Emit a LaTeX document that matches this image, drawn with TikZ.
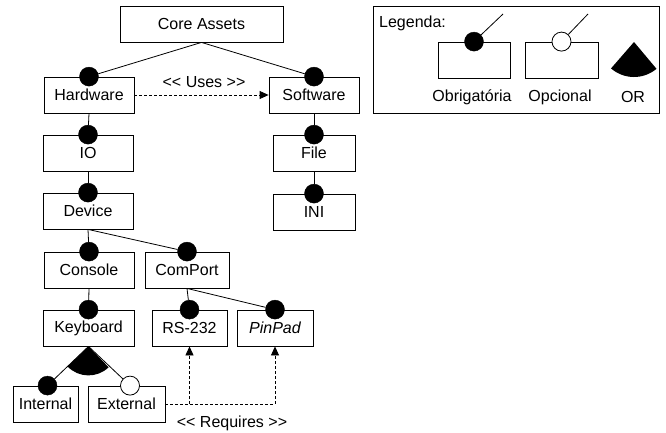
\documentclass[tikz,border=0pt]{standalone}
\usepackage{fontspec}
\setmainfont{Liberation Sans}[Ligatures=TeXOff]
\usetikzlibrary{arrows.meta}
\begin{document}
\begin{tikzpicture}[x=1pt,y=-1pt,
  box/.style={draw,line width=0.8pt,inner sep=0pt,minimum height=36pt,font=\fontsize{16}{18}\selectfont},
  mand/.style={circle,fill=black,draw=black,inner sep=0pt,minimum size=19pt},
  opt/.style={circle,fill=white,draw=black,line width=0.8pt,inner sep=0pt,minimum size=19pt},
  link/.style={line width=0.8pt},
  dep/.style={line width=0.8pt,dashed,dash pattern=on 3pt off 2pt,-{Triangle[length=9pt,width=8pt]}},
  lbl/.style={font=\fontsize{16}{18}\selectfont,inner sep=0pt}]
\useasboundingbox (0,0) rectangle (666,432);
% boxes
\node[box,minimum width=163pt] (core) at (201.5,24) {Core Assets};
\node[box,minimum width=90pt] (hw) at (89,95) {Hardware};
\node[box,minimum width=90pt] (sw) at (314,95) {Software};
\node[box,minimum width=90pt] (io) at (88,153) {IO};
\node[box,minimum width=82pt] (fi) at (314,153) {File};
\node[box,minimum width=90pt] (dev) at (88,211) {Device};
\node[box,minimum width=82pt] (ini) at (314,212) {INI};
\node[box,minimum width=90pt] (con) at (89,270) {Console};
\node[box,minimum width=84pt] (cp) at (187,270) {ComPort};
\node[box,minimum width=91pt] (kb) at (88.5,328) {Keyboard};
\node[box,minimum width=75pt] (rs) at (189.5,328) {RS-232};
\node[box,minimum width=76pt] (pp) at (275,328) {\itshape PinPad};
\node[box,minimum width=65pt] (int) at (45.5,404) {Internal};
\node[box,minimum width=77pt] (ext) at (126.5,404) {External};
% dots
\node[mand] (dhw) at (hw.north) {};
\node[mand] (dsw) at (sw.north) {};
\node[mand] (dio) at (io.north) {};
\node[mand] (dfi) at (fi.north) {};
\node[mand] (ddev) at (dev.north) {};
\node[mand] (dini) at (ini.north) {};
\node[mand] (dcon) at (con.north) {};
\node[mand] (dcp) at (cp.north) {};
\node[mand] (dkb) at (kb.north) {};
\node[mand] (drs) at (rs.north) {};
\node[mand] (dpp) at (pp.north) {};
\node[mand] (dint) at ([xshift=2pt]int.north) {};
\node[opt] (dext) at ([xshift=3.5pt]ext.north) {};
% links
\draw[link] (core.south) -- (dhw);
\draw[link] (core.south) -- (dsw);
\draw[link] (hw.south) -- (dio);
\draw[link] (sw.south) -- (dfi);
\draw[link] (io.south) -- (ddev);
\draw[link] (fi.south) -- (dini);
\draw[link] (dev.south) -- (dcon);
\draw[link] (dev.south) -- (dcp);
\draw[link] (con.south) -- (dkb);
\draw[link] (cp.south) -- (drs);
\draw[link] (cp.south) -- (dpp);
\draw[link] (kb.south) -- (dint);
\draw[link] (kb.south) -- (dext);
\fill (kb.south) -- ++(-136:29pt) arc[start angle=-136,end angle=-46,radius=29pt] -- cycle;
% dependencies
\draw[dep] (hw.east) -- (sw.west);
\node[lbl] (uses) at (204,82) {<< Uses >>};
\coordinate (j) at (rs.south |- ext.east);
\draw[dep] (ext.east) -| (pp.south);
\draw[dep] (j) -- (rs.south);
\node[lbl] (req) at (232,423) {<< Requires >>};
% legend
\node[draw,line width=0.8pt,minimum width=286pt,minimum height=107pt,inner sep=0pt] (leg) at (516,59.5) {};
\node[lbl,anchor=west] (legt) at (379,23) {Legenda:};
\node[box,minimum width=72pt] (lob) at (474,60) {};
\node[box,minimum width=73pt] (lop) at (561.5,60) {};
\coordinate (lobe) at (503,14);
\coordinate (lope) at (588,14);
\node[mand] (ldob) at (lob.north) {};
\node[opt] (ldop) at (lop.north) {};
\draw[link] (lobe) -- (ldob);
\draw[link] (lope) -- (ldop);
\coordinate (lor) at (634,42);
\fill (lor) -- ++(-131:35pt) arc[start angle=-131,end angle=-50,radius=35pt] -- cycle;
\node[lbl] (tob) at (472,97) {Obrigatória};
\node[lbl] (top) at (560,97) {Opcional};
\node[lbl] (tor) at (633,97) {OR};
\end{tikzpicture}
\end{document}
